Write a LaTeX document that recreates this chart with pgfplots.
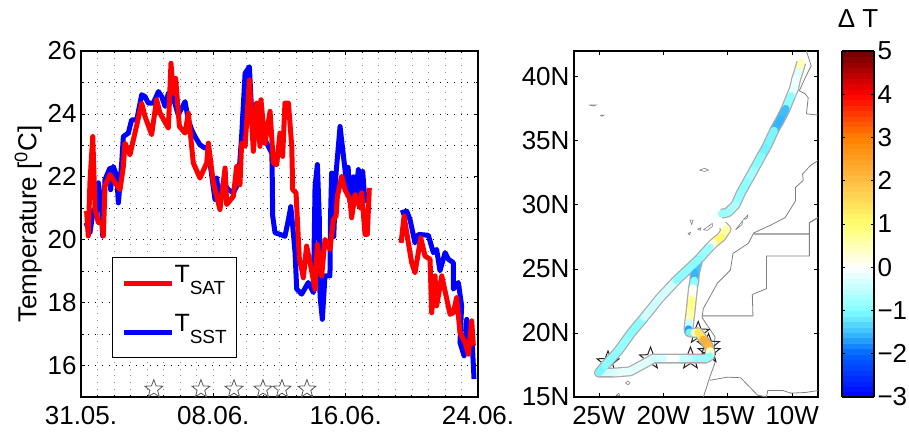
\documentclass[border=0pt]{standalone}
\usepackage{fontspec}
\setmainfont{Liberation Sans}
\usepackage{pgfplots}
\usepackage{pgfplotstable}
\pgfplotsset{compat=1.18}
\pgfplotsset{colormap={dt}{rgb255(0cm)=(0,0,255) rgb255(2cm)=(0,100,255) rgb255(3cm)=(60,190,255) rgb255(4cm)=(130,255,255) rgb255(6cm)=(255,255,255) rgb255(8cm)=(255,255,110) rgb255(10cm)=(255,190,70) rgb255(12cm)=(255,128,0) rgb255(14cm)=(255,0,0) rgb255(16cm)=(110,0,0)}}
\pgfdeclareplotmark{hstar}{%
  \pgfpathmoveto{\pgfqpointpolar{90}{\pgfplotmarksize}}
  \pgfpathlineto{\pgfqpointpolar{126}{0.42\pgfplotmarksize}}
  \pgfpathlineto{\pgfqpointpolar{162}{\pgfplotmarksize}}
  \pgfpathlineto{\pgfqpointpolar{198}{0.42\pgfplotmarksize}}
  \pgfpathlineto{\pgfqpointpolar{234}{\pgfplotmarksize}}
  \pgfpathlineto{\pgfqpointpolar{270}{0.42\pgfplotmarksize}}
  \pgfpathlineto{\pgfqpointpolar{306}{\pgfplotmarksize}}
  \pgfpathlineto{\pgfqpointpolar{342}{0.42\pgfplotmarksize}}
  \pgfpathlineto{\pgfqpointpolar{18}{\pgfplotmarksize}}
  \pgfpathlineto{\pgfqpointpolar{54}{0.42\pgfplotmarksize}}
  \pgfpathclose\pgfusepathqstroke}
\newcommand{\tl}{\fontsize{26}{26}\selectfont}
\newcommand{\tlg}{\fontsize{25}{25}\selectfont}
\newcommand{\ts}{\fontsize{19}{19}\selectfont}

\pgfplotstableread{
d T
0.30 20.54
0.54 20.22
0.75 20.96
0.91 20.75
1.05 21.81
1.25 20.96
1.31 20.12
1.45 21.91
1.75 22.28
1.79 21.59
1.95 22.33
2.16 22.02
2.26 21.17
2.46 22.44
2.56 23.28
2.86 23.39
3.06 23.81
3.37 23.81
3.67 24.61
3.87 24.55
4.07 24.34
4.37 24.34
4.68 24.71
4.88 24.55
5.08 24.24
5.28 24.66
5.58 24.50
5.88 23.97
6.29 24.39
6.49 23.81
6.69 23.50
6.89 23.28
7.19 23.02
7.50 22.91
7.70 22.97
7.80 22.44
8.10 21.28
8.20 21.96
8.40 21.12
8.61 21.81
8.91 21.59
9.21 21.49
9.51 21.81
9.71 23.28
9.92 25.29
10.18 25.50
10.32 24.02
10.62 24.34
10.92 23.39
11.23 23.07
11.53 22.76
11.55 22.44
11.59 20.75
11.73 20.22
12.03 20.17
12.33 20.11
12.54 20.64
12.68 21.05
12.80 20.43
12.94 19.59
13.04 18.43
13.34 18.27
13.74 18.64
14.05 18.32
14.15 21.70
14.29 22.39
14.41 20.64
14.45 18.21
14.59 17.47
14.75 18.85
15.05 18.85
15.08 20.6
15.15 22.12
15.28 20.1
15.42 22.12
15.66 23.60
15.96 22.23
16.07 21.5
16.15 22.3
16.26 21.2
16.47 22.0
16.57 21.3
16.77 22.23
16.87 21.3
17.03 22.17
17.17 21.17
}\blueA

\pgfplotstableread{
d T
19.33 20.85
19.69 20.91
19.89 20.64
20.19 19.90
20.40 20.17
21.00 20.14
21.30 19.59
21.50 19.69
21.70 19.01
22.01 19.59
22.21 19.38
22.51 19.27
22.51 18.43
22.81 18.64
23.01 17.90
22.91 16.73
23.16 16.31
23.32 17.47
23.52 16.63
23.62 17.05
23.76 15.57
}\blueB

\pgfplotstableread{
d T
0.34 20.91
0.44 20.12
0.54 21.81
0.71 23.28
0.85 20.96
1.05 20.54
1.25 20.54
1.35 20.12
1.45 21.70
1.75 22.07
2.06 21.81
2.36 21.59
2.56 22.33
2.66 23.07
2.96 22.70
3.26 23.39
3.67 24.34
3.87 23.92
4.27 23.34
4.57 24.45
4.78 24.02
5.28 23.55
5.44 25.61
5.58 24.66
5.72 25.13
5.95 23.60
6.29 23.39
6.49 24.02
6.79 22.44
7.19 21.96
7.60 22.44
7.70 23.07
8.00 21.81
8.40 20.96
8.71 22.28
8.81 21.12
9.21 21.38
9.41 22.33
9.61 21.75
9.71 23.07
9.92 22.97
10.18 25.08
10.42 22.81
10.62 24.34
10.82 22.97
10.88 24.45
11.12 23.07
11.43 24.08
11.63 22.44
11.83 22.39
12.03 23.39
12.19 22.65
12.33 24.34
12.54 24.34
12.74 22.97
12.80 21.59
13.00 21.49
13.14 20.01
13.20 19.38
13.34 19.06
13.44 18.79
13.64 19.80
13.85 19.27
14.15 18.42
14.29 19.85
14.55 18.85
14.75 20.01
15.05 19.69
15.26 20.64
15.42 20.75
15.50 21.38
15.76 22.02
15.96 21.59
16.26 21.28
16.36 20.70
16.57 21.44
16.87 21.01
16.97 21.49
17.17 20.17
17.31 20.17
17.43 21.65
}\redA

\pgfplotstableread{
d T
19.35 19.90
19.53 20.75
19.79 19.90
19.99 19.27
20.19 18.95
20.54 20.06
20.80 19.48
21.10 19.38
21.20 17.68
21.40 18.85
21.50 17.90
21.81 18.85
22.31 17.63
22.51 17.68
22.71 18.16
22.91 17.05
23.22 16.73
23.42 16.36
23.62 17.42
23.72 16.63
}\redB

\pgfplotstableread{
lon lat m
-9.3 41.1 0.9
-9.5 40.4 0.1
-9.7 39.8 -0.6
-9.85 39.1 0.4
-10.1 38.5 -0.8
-10.5 37.5 -1.0
-10.9 36.7 -2.0
-11.4 35.8 -1.1
-12.0 34.5 -1.0
-12.4 33.8 -1.2
-13.0 32.7 -0.7
-13.5 31.8 -0.8
-14.0 30.9 -1.0
-14.4 30.0 -0.7
-15.0 29.4 -0.6
-15.5 29.3 -1.0
}\trackA

\pgfplotstableread{
lon lat m
-15.4 28.4 0.0
-15.1 28.1 0.2
-15.5 27.5 1.0
-16.1 27.0 1.0
-16.4 26.7 -0.6
-17.3 25.7 -1.0
-17.55 24.7 -1.9
-17.6 24.1 -1.2
-17.7 23.5 -0.6
-17.8 22.6 0.7
-17.9 21.6 0.9
-18.0 20.8 0.3
-18.05 20.3 -1.2
-18.0 20.05 -2.2
-17.6 20.0 0.0
-17.3 20.05 1.0
-16.9 19.5 1.8
-16.5 19.0 2.7
-16.4 18.6 1.5
-16.4 18.2 -0.8
-16.7 18.0 -1.0
-18.0 18.0 -0.6
-19.0 18.0 -0.3
-20.0 18.0 0.3
-20.8 18.0 -1.0
-21.3 17.7 0.3
-22.6 17.0 -0.8
-23.9 16.9 0.4
-25.0 16.9 -1.1
-24.5 17.5 -1.0
-23.5 18.6 -0.8
-22.5 20.0 -0.9
-21.5 21.2 -0.9
-20.3 22.7 0.1
-19.0 24.1 -0.8
-17.3 25.7 -1.0
}\trackB

\pgfplotstableread{
x y
-8.9 42
-8.53 40.85
-9.0 39.9
-9.45 38.9
-9.0 38.66
-8.76 38.35
-8.9 37.1
-8.0 37
}\coastA

\pgfplotstableread{
x y
-8.0 33.45
-8.6 33.05
-9.2 32.4
-9.15 31.9
-9.75 31.35
-9.75 30.3
-10.55 29.0
-11.7 28.4
-13.0 27.8
-13.4 27.0
-14.6 26.2
-14.8 24.9
-15.8 23.9
-16.9 21.9
-17.0 21.2
-16.5 20.45
-16.0 19.7
-16.05 18.4
-16.0 17.65
-16.4 16.55
-16.9 15.0
}\coastB

\pgfplotstableread{
x y
-13.0 27.72
-8.67 27.72
-8.67 28.6
-8.0 29.0
}\bordA

\pgfplotstableread{
x y
-8.67 27.72
-8.67 26.0
-12.0 26.0
-12.0 23.45
-13.1 23.0
-13.05 21.33
-17.0 21.33
}\bordB

\pgfplotstableread{
x y
-16.4 16.3
-15.05 16.55
-14.0 16.5
-12.7 15.15
-12.0 15.0
-11.9 15.5
-10.7 15.5
-10.1 15.3
-9.0 15.35
-8.0 15.5
}\bordC

\begin{document}
\begin{tikzpicture}[x=1pt,y=1pt]
\begin{axis}[
  name=L, at={(81pt,34pt)}, anchor=south west, scale only axis,
  width=397pt, height=346pt,
  xmin=0, xmax=24, ymin=15, ymax=26,
  xtick={0,8,16,24}, xticklabels={31.05.,08.06.,16.06.,24.06.},
  minor xtick={1,2,...,23},
  ytick={16,18,...,26}, minor ytick={15,17,...,25},
  grid=both,
  major grid style={line width=0.6pt,dash pattern=on 0.9pt off 6pt},
  minor grid style={line width=0.6pt,dash pattern=on 0.9pt off 6pt},
  x grid style={black!45},
  y grid style={black},
  tick align=inside, major tick length=4pt, minor tick length=2.5pt,
  every tick/.style={black,line width=0.7pt},
  axis line style={line width=1.3pt},
  tick label style={font=\tl},
  xticklabel style={yshift=-6pt},
  yticklabel style={xshift=-1pt},
  ylabel={Temperature [\textsuperscript{0}C]},
  ylabel style={font=\tl,yshift=-1pt},
  /pgf/number format/assume math mode=true,
  legend cell align=left,
  legend style={at={(0.078,0.113)},anchor=south west,draw=black,line width=1.1pt,fill=white,
    font=\tlg,inner xsep=9.5pt,inner ysep=1pt,row sep=0pt,column sep=0pt,
    /tikz/column 2/.style={column sep=5pt},
    nodes={inner sep=0pt,text height=24pt,text depth=25pt,anchor=base west}},
  legend image code/.code={\draw[#1,line width=4.5pt] (0pt,-1pt) -- (48pt,-1pt);},
]
\addlegendimage{red}
\addlegendimage{blue}
\addplot[blue,line width=5pt,line join=round,forget plot] table[x=d,y=T] {\blueA};
\addplot[blue,line width=5pt,line join=round,forget plot] table[x=d,y=T] {\blueB};
\addplot[red,line width=5pt,line join=round,forget plot] table[x=d,y=T] {\redA};
\addplot[red,line width=5pt,line join=round,forget plot] table[x=d,y=T] {\redB};
\addplot[only marks,mark=hstar,mark size=9.5pt,black!65,line width=0.8pt,forget plot] coordinates {(4.4,15.25) (7.25,15.25) (9.25,15.25) (11,15.25) (12.15,15.25) (13.66,15.25)};
\addlegendentry{T\raisebox{-12.5pt}{\ts SAT}}
\addlegendentry{T\raisebox{-12.5pt}{\ts SST}}
\end{axis}

\begin{axis}[
  name=R, at={(574pt,34pt)}, anchor=south west, scale only axis,
  width=244pt, height=346pt,
  xmin=-26.94, xmax=-8, ymin=15, ymax=42,
  xtick={-25,-20,-15,-10}, xticklabels={25W,20W,15W,10W},
  ytick={15,20,...,40}, yticklabels={15N,20N,25N,30N,35N,40N},
  tick align=inside, major tick length=4pt,
  every tick/.style={black,line width=0.7pt},
  axis line style={line width=1.3pt},
  tick label style={font=\tl},
  xticklabel style={yshift=-6pt},
  yticklabel style={xshift=-1pt},
  clip marker paths=true,
  colormap name=dt,
  point meta min=-3, point meta max=5,
  colorbar,
  colorbar sampled,
  colorbar style={
    at={(1.0984,1)}, anchor=north west,
    width=32pt, height=346pt, samples=65,
    ytick={-3,-2,...,5},
    yticklabels={−3,−2,−1,0,1,2,3,4,5},
    tick align=inside, major tick length=3pt,
    every tick/.style={black,line width=0.7pt},
    axis line style={line width=1.2pt},
    tick label style={font=\tl},
  },
]
\addplot[black!50,line width=0.8pt] table[x=x,y=y] {\coastA};
\addplot[black!50,line width=0.8pt] table[x=x,y=y] {\coastB};
\addplot[black!50,line width=0.8pt] table[x=x,y=y] {\bordC};
\addplot[black!50,line width=1.1pt] table[x=x,y=y] {\bordA};
\addplot[black!50,line width=0.8pt] table[x=x,y=y] {\bordB};
% islands
\addplot[black!50,line width=0.6pt] coordinates {(-17.2,32.7) (-16.8,32.85) (-16.5,32.7) (-16.8,32.6) (-17.2,32.7)};
\addplot[black!50,line width=0.6pt] coordinates {(-17.95,28.8) (-17.7,28.8) (-17.8,28.45) (-17.95,28.8)};
\addplot[black!50,line width=0.6pt] coordinates {(-18.1,27.75) (-17.9,27.85) (-17.95,27.65) (-18.1,27.75)};
\addplot[black!50,line width=0.6pt] coordinates {(-17.35,28.1) (-17.1,28.2) (-17.15,28.0) (-17.35,28.1)};
\addplot[black!50,line width=0.6pt] coordinates {(-16.9,28.05) (-16.2,28.55) (-16.2,28.3) (-16.6,28.0) (-16.9,28.05)};
\addplot[black!50,line width=0.6pt] coordinates {(-14.4,28.05) (-13.9,28.45) (-13.85,28.75) (-14.05,28.5) (-14.4,28.05)};
\addplot[black!50,line width=0.6pt] coordinates {(-13.8,28.85) (-13.45,29.2) (-13.5,28.95) (-13.8,28.85)};
\addplot[black!50,line width=0.6pt] coordinates {(-25.8,37.8) (-25.2,37.8) (-25.4,37.7) (-25.8,37.8)};
\addplot[black!50,line width=0.6pt] coordinates {(-24.9,37) (-24.6,37) (-24.8,36.9) (-24.9,37)};
\addplot[black!50,line width=0.6pt] coordinates {(-22.95,16.1) (-22.75,16.25) (-22.6,16.1) (-22.75,15.95) (-22.95,16.1)};
\addplot[black!50,line width=0.6pt] coordinates {(-23.7,15.1) (-23.45,15.3) (-23.4,15.1) (-23.7,15.1)};
% stars
\addplot[only marks,mark=hstar,mark size=11.5pt,black!85,line width=1pt] coordinates {(-24.3,17.7) (-21,18) (-17.9,18) (-17.3,20) (-16.5,19.05) (-16.45,18.5)};
% track
\addplot[black!33,line width=10pt,line join=round] table[x=lon,y=lat] {\trackA};
\addplot[black!33,line width=10pt,line join=round] table[x=lon,y=lat] {\trackB};
\addplot[mesh,point meta=explicit,line width=7.5pt,line cap=round] table[x=lon,y=lat,meta=m] {\trackA};
\addplot[mesh,point meta=explicit,line width=7.5pt,line cap=round] table[x=lon,y=lat,meta=m] {\trackB};
\end{axis}

\node[font=\tl,anchor=center] at (858pt,412pt) {Δ T};
\pgfresetboundingbox
\path[use as bounding box] (0pt,0pt) rectangle (909pt,431pt);
\end{tikzpicture}
\end{document}
